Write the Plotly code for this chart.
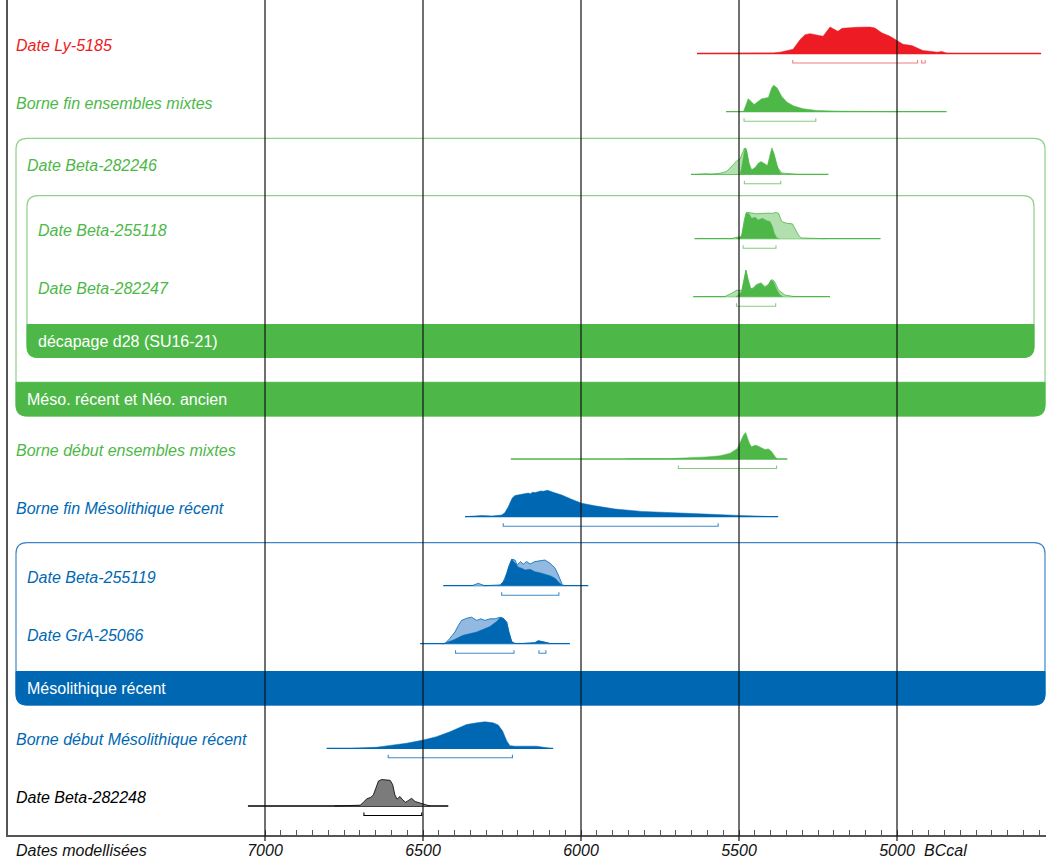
import plotly.graph_objects as go

# ---------------- data (years BC, relative probability 0-100) ----------------
AXIS_YEARS = [7000, 6500, 6000, 5500, 5000]
AXIS_TEXT = ["7000", "6500", "6000", "5500", "5000"]

# Date Ly-5185
ly5185_yr = [5623, 5506, 5465, 5392, 5370, 5345, 5329, 5307, 5291, 5275, 5253, 5234, 5212, 5196, 5187, 5174,
             5158, 5127, 5085, 5070, 5047, 5022, 5000, 4981, 4953, 4937, 4918, 4890, 4873, 4858, 4842, 4823]
ly5185_post = [0, 1, 2, 2, 5, 11, 16, 52, 71, 75, 71, 65, 100, 90, 84, 95,
               97, 99, 100, 96, 77, 65, 49, 35, 30, 20, 11, 8, 5, 8, 1, 0]
ly5185_line = [5633, 4544]
ly5185_rng = [[5330, 4935], [4922, 4911]]

# Borne fin ensembles mixtes
bfem_yr = [5486, 5481, 5471, 5460, 5452, 5439, 5428, 5415, 5407, 5397, 5390, 5379, 5365, 5349, 5328,
           5297, 5254, 5180, 5075, 5001]
bfem_post = [0, 14, 49, 37, 27, 39, 49, 52, 54, 89, 100, 89, 58, 37, 22, 11, 5, 2, 1, 0]
bfem_line = [5541, 4843]
bfem_rng = [[5484, 5257]]

# Date Beta-282246
b282246_yr = [5497, 5492, 5487, 5481, 5476, 5468, 5460, 5449, 5439, 5430, 5421, 5410, 5402, 5396, 5389,
              5380, 5370, 5360]
b282246_post = [0, 23, 60, 98, 91, 42, 17, 26, 42, 48, 42, 33, 73, 100, 79, 36, 5, 0]
b282246_pyr = [5630, 5602, 5590, 5560, 5539, 5523, 5513, 5505, 5497, 5490, 5483, 5478, 5473, 5465, 5455,
               5440, 5430, 5410, 5400, 5395, 5388, 5378, 5365, 5340, 5320]
b282246_prior = [0, 2, 0, 4, 11, 30, 42, 53, 57, 79, 98, 98, 60, 17, 15, 30, 35, 25, 65, 80, 65, 25, 5, 2, 0]
b282246_line = [5652, 5217]
b282246_rng = [[5483, 5368]]

# Date Beta-255118
b255118_yr = [5510, 5502, 5492, 5484, 5478, 5468, 5460, 5449, 5439, 5426, 5412, 5402, 5394, 5388, 5380, 5372]
b255118_post = [0, 5, 8, 58, 96, 94, 77, 81, 71, 77, 68, 65, 46, 20, 3, 0]
b255118_pyr = [5525, 5513, 5492, 5483, 5476, 5460, 5444, 5418, 5394, 5383, 5375, 5365, 5349, 5331, 5323,
               5312, 5304, 5270, 5228]
b255118_prior = [0, 4, 8, 71, 100, 96, 94, 96, 96, 99, 96, 65, 58, 56, 39, 14, 3, 1, 0]
b255118_line = [5641, 5052]
b255118_rng = [[5487, 5383]]

# Date Beta-282247
b282247_yr = [5510, 5502, 5492, 5484, 5478, 5471, 5463, 5455, 5444, 5430, 5418, 5407, 5399, 5391, 5380,
              5370, 5360]
b282247_post = [0, 6, 19, 63, 100, 63, 28, 31, 44, 50, 35, 44, 63, 56, 25, 6, 0]
b282247_pyr = [5560, 5544, 5523, 5507, 5497, 5490, 5484, 5478, 5471, 5463, 5455, 5444, 5430, 5418, 5407,
               5396, 5388, 5375, 5354, 5323]
b282247_prior = [0, 1, 13, 25, 23, 25, 63, 100, 63, 30, 33, 46, 52, 38, 46, 65, 58, 25, 6, 0]
b282247_line = [5645, 5212]
b282247_rng = [[5508, 5384]]

# Borne début ensembles mixtes
bdem_yr = [5860, 5834, 5729, 5666, 5602, 5560, 5528, 5505, 5495, 5486, 5479, 5474, 5467, 5460, 5449,
           5442, 5428, 5418, 5407, 5397, 5386, 5379]
bdem_post = [0, 1, 1, 4, 8, 12, 22, 40, 65, 90, 100, 84, 59, 46, 52, 50, 40, 36, 38, 28, 9, 0]
bdem_line = [6222, 5347]
bdem_rng = [[5692, 5381]]

# Borne fin Mésolithique récent
bfmr_yr = [6367, 6357, 6314, 6283, 6251, 6241, 6230, 6218, 6209, 6200, 6188, 6178, 6167, 6160, 6154, 6145,
           6135, 6127, 6119, 6106, 6088, 6061, 6030, 5998, 5956, 5892, 5808, 5713, 5608, 5502, 5428, 5386]
bfmr_post = [0, 1, 5, 3, 6, 15, 38, 70, 80, 82, 84, 86, 89, 87, 92, 91,
             94, 97, 96, 100, 92, 82, 66, 51, 41, 29, 20, 14, 10, 5, 1, 0]
bfmr_line = [6367, 5376]
bfmr_rng = [[6246, 5566]]

# Date Beta-255119
b255119_yr = [6265, 6256, 6241, 6230, 6219, 6209, 6198, 6188, 6177, 6161, 6146, 6130, 6114, 6098, 6082,
              6069, 6058, 6050]
b255119_post = [0, 1, 22, 66, 100, 87, 70, 66, 59, 62, 53, 49, 44, 38, 28, 11, 1, 0]
b255119_pyr = [6345, 6325, 6305, 6256, 6246, 6235, 6227, 6219, 6209, 6202, 6191, 6183, 6172, 6161, 6146,
               6130, 6114, 6098, 6082, 6072, 6061, 6054]
b255119_prior = [0, 9, 0, 3, 15, 47, 78, 100, 97, 78, 91, 81, 91, 82, 91, 95, 97, 85, 66, 41, 9, 0]
b255119_line = [6436, 5977]
b255119_rng = [[6251, 6070]]

# Date GrA-25066
gra_yr = [6445, 6436, 6404, 6373, 6330, 6288, 6267, 6256, 6246, 6235, 6228, 6219, 6209, 6183, 6146,
          6135, 6119, 6104, 6095]
gra_post = [0, 0, 14, 32, 44, 65, 84, 98, 96, 81, 44, 7, 1, 1, 4, 11, 7, 1, 0]
gra_pyr = [6440, 6430, 6415, 6399, 6388, 6378, 6362, 6346, 6330, 6317, 6304, 6288, 6272, 6256, 6246,
           6235, 6228, 6219, 6209, 6183, 6146, 6135, 6119, 6104, 6095]
gra_prior = [0, 1, 20, 44, 69, 88, 96, 100, 88, 94, 88, 94, 94, 100, 96, 81, 44, 7, 1, 1, 4, 11, 7, 1, 0]
gra_line = [6509, 6035]
gra_rng = [[6397, 6212], [6133, 6111]]

# Borne début Mésolithique récent
bdmr_yr = [6721, 6647, 6604, 6552, 6499, 6457, 6415, 6383, 6362, 6330, 6304, 6278, 6262, 6248, 6235,
           6225, 6209, 6140, 6119, 6098]
bdmr_post = [0, 4, 11, 19, 31, 44, 62, 78, 90, 96, 100, 96, 88, 65, 28, 10, 8, 8, 5, 0]
bdmr_line = [6805, 6088]
bdmr_rng = [[6610, 6217]]

# Date Beta-282248
b282248_yr = [6780, 6763, 6699, 6689, 6678, 6665, 6657, 6649, 6641, 6631, 6604, 6596, 6589, 6582, 6573,
              6564, 6555, 6546, 6536, 6525, 6515, 6504, 6494, 6478]
b282248_post = [0, 1, 3, 13, 27, 33, 42, 68, 94, 100, 97, 81, 42, 26, 36, 23, 14, 21, 29, 17, 13, 10, 5, 0]
b282248_line = [7054, 6420]
b282248_rng = [[6687, 6504]]

# ---------------- styles ----------------
RED, RED_BR = "#ed1c24", "#f07f84"
GREEN, GREEN_LIGHT, GREEN_BR, GREEN_BOX = "#4db848", "#b2dfae", "#86cc80", "#8ed189"
BLUE, BLUE_LIGHT, BLUE_BR, BLUE_BOX = "#0068b3", "#92b9df", "#3f8bcb", "#3f86c8"
GRAY = "#7b7b7b"
FONT = "Liberation Sans, Arial, sans-serif"

W, H = 1046, 861
ML, MB = 8, 26
PLOT_W = W - ML
PLOT_BOTTOM = H - MB      # y pixel of the x axis line
X_RANGE = [7000 + (265 - ML) / 0.316, 5000 - (W - 897) / 0.316]
PEAK = 26.5               # pixel height of a 100 % peak
BR_OFF = 9.5              # bracket offset below baseline
BR_TICK = 3


def pxx(p):
    return (p - ML) / PLOT_W


rows = [
    dict(label="Date Ly-5185", col=RED, light=None, br=RED_BR, base=53.5, lx=16,
         yr=ly5185_yr, post=ly5185_post, line=ly5185_line, rng=ly5185_rng),
    dict(label="Borne fin ensembles mixtes", col=GREEN, light=None, br=GREEN_BR, base=111.7, lx=16,
         yr=bfem_yr, post=bfem_post, line=bfem_line, rng=bfem_rng),
    dict(label="Date Beta-282246", col=GREEN, light=GREEN_LIGHT, br=GREEN_BR, base=174.3, lx=27,
         yr=b282246_yr, post=b282246_post, pyr=b282246_pyr, prior=b282246_prior,
         line=b282246_line, rng=b282246_rng),
    dict(label="Date Beta-255118", col=GREEN, light=GREEN_LIGHT, br=GREEN_BR, base=238.7, lx=38,
         yr=b255118_yr, post=b255118_post, pyr=b255118_pyr, prior=b255118_prior,
         line=b255118_line, rng=b255118_rng),
    dict(label="Date Beta-282247", col=GREEN, light=GREEN_LIGHT, br=GREEN_BR, base=296.7, lx=38,
         yr=b282247_yr, post=b282247_post, pyr=b282247_pyr, prior=b282247_prior,
         line=b282247_line, rng=b282247_rng),
    dict(label="Borne début ensembles mixtes", col=GREEN, light=None, br=GREEN_BR, base=459, lx=16,
         yr=bdem_yr, post=bdem_post, line=bdem_line, rng=bdem_rng),
    dict(label="Borne fin Mésolithique récent", col=BLUE, light=None, br=BLUE_BR, base=516.7, lx=16,
         yr=bfmr_yr, post=bfmr_post, line=bfmr_line, rng=bfmr_rng),
    dict(label="Date Beta-255119", col=BLUE, light=BLUE_LIGHT, br=BLUE_BR, base=585.7, lx=27,
         yr=b255119_yr, post=b255119_post, pyr=b255119_pyr, prior=b255119_prior,
         line=b255119_line, rng=b255119_rng),
    dict(label="Date GrA-25066", col=BLUE, light=BLUE_LIGHT, br=BLUE_BR, base=643.7, lx=27,
         yr=gra_yr, post=gra_post, pyr=gra_pyr, prior=gra_prior,
         line=gra_line, rng=gra_rng),
    dict(label="Borne début Mésolithique récent", col=BLUE, light=None, br=BLUE_BR, base=748.3, lx=16,
         yr=bdmr_yr, post=bdmr_post, line=bdmr_line, rng=bdmr_rng),
    dict(label="Date Beta-282248", col="#000000", light=None, br="#000000", base=806, lx=16,
         yr=b282248_yr, post=b282248_post, line=b282248_line, rng=b282248_rng, fill=GRAY),
]

fig = go.Figure()
annotations = []

for r in rows:
    b = r["base"]
    fig.add_trace(go.Scatter(x=r["line"], y=[b, b], mode="lines",
                             line=dict(color=r["col"], width=1.3), hoverinfo="skip"))
    if r.get("prior") is not None:
        fig.add_trace(go.Scatter(x=r["pyr"], y=[b - v * PEAK / 100 for v in r["prior"]],
                                 mode="lines", fill="toself", fillcolor=r["light"],
                                 line=dict(color=r["col"], width=0.8), hoverinfo="skip"))
    fillc = r.get("fill", r["col"])
    fig.add_trace(go.Scatter(x=r["yr"], y=[b - v * PEAK / 100 for v in r["post"]],
                             mode="lines", fill="toself", fillcolor=fillc,
                             line=dict(color=r["col"], width=0.8 if "fill" in r else 0.5),
                             hoverinfo="skip"))
    for a, c in r["rng"]:
        yb = b + BR_OFF
        fig.add_trace(go.Scatter(x=[a, a, c, c], y=[yb - BR_TICK, yb, yb, yb - BR_TICK], mode="lines",
                                 line=dict(color=r["br"], width=1.1), hoverinfo="skip"))
    annotations.append(dict(x=pxx(r["lx"]), xref="paper", y=b - 8.5, yref="y", text=r["label"],
                            showarrow=False, xanchor="left", yanchor="middle", borderpad=0, borderwidth=0,
                            font=dict(family=FONT, size=16, color=r["col"], style="italic")))


def rounded_path(x0, y0, x1, y1, rad, top=True, bottom=True):
    rx = rad / PLOT_W
    X0, X1 = pxx(x0), pxx(x1)
    p = []
    if top:
        p.append(f"M {X0},{y0 + rad} Q {X0},{y0} {X0 + rx},{y0} L {X1 - rx},{y0} Q {X1},{y0} {X1},{y0 + rad}")
    else:
        p.append(f"M {X0},{y0} L {X1},{y0}")
    if bottom:
        p.append(f"L {X1},{y1 - rad} Q {X1},{y1} {X1 - rx},{y1} L {X0 + rx},{y1} Q {X0},{y1} {X0},{y1 - rad}")
    else:
        p.append(f"L {X1},{y1} L {X0},{y1}")
    p.append("Z")
    return " ".join(p)


groups = [
    dict(x0=16, x1=1045, y0=138.3, y1=416, bar=382.3, text="Méso. récent et Néo. ancien",
         tx=27, col=GREEN, box=GREEN_BOX),
    dict(x0=27, x1=1034, y0=195.7, y1=357.5, bar=324.5, text="décapage d28 (SU16-21)",
         tx=38, col=GREEN, box=GREEN_BOX),
    dict(x0=16, x1=1045, y0=542.7, y1=705, bar=671.5, text="Mésolithique récent",
         tx=27, col=BLUE, box=BLUE_BOX),
]
shapes = []
for g in groups:
    shapes.append(dict(type="path", xref="paper", yref="y", layer="below",
                       path=rounded_path(g["x0"], g["y0"], g["x1"], g["y1"], 11),
                       line=dict(color=g["box"], width=1.2), fillcolor="rgba(0,0,0,0)"))
    shapes.append(dict(type="path", xref="paper", yref="y", layer="below",
                       path=rounded_path(g["x0"], g["bar"], g["x1"], g["y1"], 11, top=False),
                       line=dict(color=g["col"], width=1), fillcolor=g["col"]))
    annotations.append(dict(x=pxx(g["tx"]), xref="paper", y=(g["bar"] + g["y1"]) / 2 + 0.5, yref="y",
                            text=g["text"], showarrow=False, xanchor="left", yanchor="middle",
                            borderpad=0, borderwidth=0,
                            font=dict(family=FONT, size=16, color="white")))

# grid lines at the major ticks (drawn above the data, as in the reference)
for yv in AXIS_YEARS:
    shapes.append(dict(type="line", xref="x", yref="paper", x0=yv, x1=yv, y0=-6 / PLOT_BOTTOM, y1=1,
                       layer="above", line=dict(color="#111111", width=1.2)))

# ticks every 50 years from 7000 to the right edge
tick_vals = list(range(7000, 4500, -50))
tick_text = [AXIS_TEXT[AXIS_YEARS.index(v)] if v in AXIS_YEARS else "" for v in tick_vals]

for txt, xp in [("Dates modellisées", 16), ("BCcal", 924)]:
    annotations.append(dict(x=pxx(xp), xref="paper", y=-(850.5 - PLOT_BOTTOM) / PLOT_BOTTOM, yref="paper",
                            text=txt, showarrow=False, xanchor="left", yanchor="middle",
                            borderpad=0, borderwidth=0,
                            font=dict(family=FONT, size=16, color="#111111", style="italic")))

fig.update_layout(
    template="none",
    width=W, height=H,
    margin=dict(l=ML, r=0, t=0, b=MB, pad=0),
    paper_bgcolor="white", plot_bgcolor="white",
    showlegend=False,
    shapes=shapes,
    annotations=annotations,
    xaxis=dict(range=X_RANGE, autorange=False, showgrid=False, zeroline=False,
               showline=True, linecolor="#555555", linewidth=1.5,
               tickmode="array", tickvals=tick_vals, ticktext=tick_text,
               ticks="inside", ticklen=5, tickwidth=1, tickcolor="#555555",
               tickfont=dict(family=FONT, size=16, color="#111111", style="italic"),
               automargin=False, fixedrange=True),
    yaxis=dict(range=[PLOT_BOTTOM, 0], autorange=False, showgrid=False, zeroline=False,
               showline=True, linecolor="#555555", linewidth=1.5, showticklabels=False,
               ticks="", automargin=False, fixedrange=True),
)

fig.write_html("out.html", config={"displayModeBar": False},
               post_script="document.body.style.margin='0px';document.body.style.padding='0px';"
                           "document.documentElement.style.overflow='hidden';")
